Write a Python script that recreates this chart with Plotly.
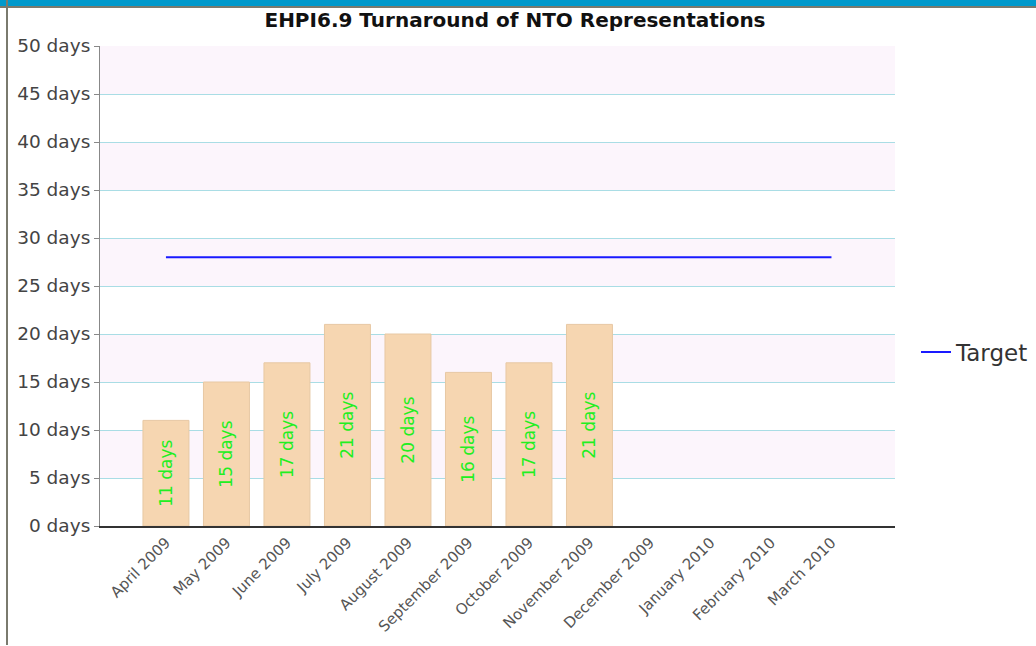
import plotly.graph_objects as go

months = ["April 2009", "May 2009", "June 2009", "July 2009", "August 2009",
          "September 2009", "October 2009", "November 2009", "December 2009",
          "January 2010", "February 2010", "March 2010"]
turnaround = [11, 15, 17, 21, 20, 16, 17, 21, None, None, None, None]
target = [28] * 12
y_ticks = [0, 5, 10, 15, 20, 25, 30, 35, 40, 45, 50]

W, H = 1036, 646
L, R, T, B = 100, 141, 46, 120
pw, ph = W - L - R, H - T - B


def px(x):
    return (x - L) / pw


def py(y):
    return (H - B - y) / ph


xs = list(range(len(months)))

fig = go.Figure()

# alternating bands, kept under the grid lines
shapes = []
for lo in y_ticks[1:-1:2]:
    shapes.append(dict(type="rect", xref="paper", yref="y", x0=0, x1=1, y0=lo, y1=lo + 5,
                       fillcolor="#fcf5fc", line_width=0, layer="between"))

fig.add_trace(go.Bar(
    x=xs, y=turnaround, width=0.76,
    marker=dict(color="#f6d6b1", line=dict(color="#e7c8a4", width=1)),
    text=[f"{v} days" if v is not None else "" for v in turnaround],
    textposition="inside", insidetextanchor="middle", textangle=-90,
    textfont=dict(color="#22ee22", size=17, family="DejaVu Sans"),
    showlegend=False, hoverinfo="skip",
))

fig.add_trace(go.Scatter(
    x=xs, y=target, mode="lines", name="Target",
    line=dict(color="#1a1aff", width=2),
))

# header strip and left frame
shapes += [
    dict(type="rect", xref="paper", yref="paper", x0=px(0), x1=px(W), y0=py(6), y1=py(0),
         fillcolor="#0099cc", line_width=0),
    dict(type="rect", xref="paper", yref="paper", x0=px(0), x1=px(W), y0=py(8), y1=py(6),
         fillcolor="#7a7a6e", line_width=0),
    dict(type="rect", xref="paper", yref="paper", x0=px(6), x1=px(8), y0=py(H - 1), y1=py(0),
         fillcolor="#7a7a6e", line_width=0),
]

fig.update_layout(
    width=W, height=H,
    margin=dict(l=L, r=R, t=T, b=B, autoexpand=False),
    paper_bgcolor="white", plot_bgcolor="white",
    font=dict(family="DejaVu Sans", color="#444"),
    title=dict(text="<b>EHPI6.9 Turnaround of NTO Representations</b>",
               xref="container", x=515 / W, xanchor="center",
               y=1 - 20 / H, yanchor="middle",
               font=dict(size=20, color="#111")),
    shapes=shapes,
    legend=dict(x=px(916), y=py(352), xanchor="left", yanchor="middle",
                font=dict(size=23, color="#333"), bgcolor="rgba(0,0,0,0)",
                itemwidth=30),
    annotations=[dict(text="<b>Trend Chart</b>", xref="paper", yref="paper",
                      x=px(10), y=py(6), xanchor="left", yanchor="bottom",
                      showarrow=False, font=dict(size=16, color="black"))],
    xaxis=dict(
        range=[-1.09, 12.05], tickvals=xs, ticktext=months, tickangle=-45,
        tickfont=dict(size=15, color="#555"), showgrid=False, zeroline=False,
        showline=True, linecolor="#333", linewidth=2, ticks="",
    ),
    yaxis=dict(
        range=[0, 50], tickvals=y_ticks, ticktext=[f"{v} days" for v in y_ticks],
        tickfont=dict(size=18.5, color="#444"), showgrid=True, gridcolor="#a9dde5",
        gridwidth=1, zeroline=False, showline=True, linecolor="#888", linewidth=1,
        ticks="outside", ticklen=5, tickcolor="#888",
    ),
)

fig.write_html("out.html", config={"displayModeBar": False},
               post_script="document.body.style.margin='0';")
